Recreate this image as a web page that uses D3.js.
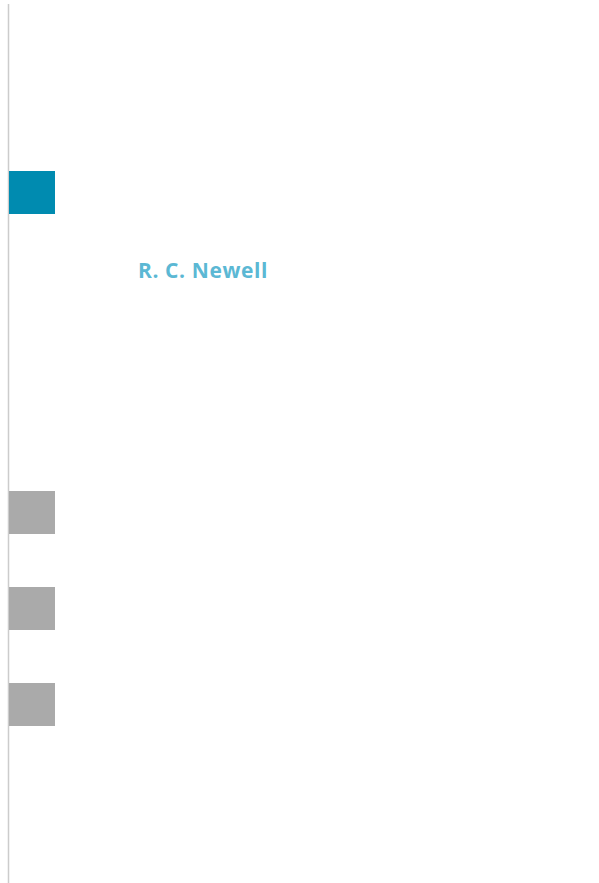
<!DOCTYPE html>
<html>
<head>
  <meta charset="utf-8">
  <title>R. C. Newell</title>
  <style>
    body { margin: 0; background: #fff; }
    svg { display: block; }
  </style>
  <script src="https://d3js.org/d3.v7.min.js"></script>
</head>
<body>
  <div id="container"></div>
  <script>
    // blocks down the left edge, and the author line
    const blocks = ["accent", "section1", "section2", "section3"];
    const blockKind = ["accent", "plain", "plain", "plain"];
    const author = ["R. C. Newell"];

    const width = 599, height = 883;

    const svg = d3.select("#container").append("svg")
      .attr("width", width)
      .attr("height", height);

    // y position of each block's top edge
    const y = d3.scaleOrdinal()
      .domain(blocks)
      .range([171, 491, 587, 683]);

    const fill = d3.scaleOrdinal()
      .domain(["accent", "plain"])
      .range(["#008bb0", "#aaaaaa"]);

    // thin rule down the left side
    svg.append("line")
      .attr("x1", 8.5).attr("x2", 8.5)
      .attr("y1", 4).attr("y2", height)
      .attr("stroke", "#cccccc")
      .attr("stroke-width", 1.5);

    svg.selectAll("rect.block")
      .data(blocks)
      .enter()
      .append("rect")
      .attr("class", "block")
      .attr("x", 9)
      .attr("y", d => y(d))
      .attr("width", 46)
      .attr("height", 43)
      .attr("fill", (d, i) => fill(blockKind[i]));

    svg.selectAll("text.author")
      .data(author)
      .enter()
      .append("text")
      .attr("class", "author")
      .attr("x", 138)
      .attr("y", 277.5)
      .attr("font-family", "'Open Sans', sans-serif")
      .attr("font-weight", "bold")
      .attr("font-size", 21)
      .attr("letter-spacing", 0.6)
      .attr("fill", "#5bb8d4")
      .text(d => d);
  </script>
</body>
</html>
